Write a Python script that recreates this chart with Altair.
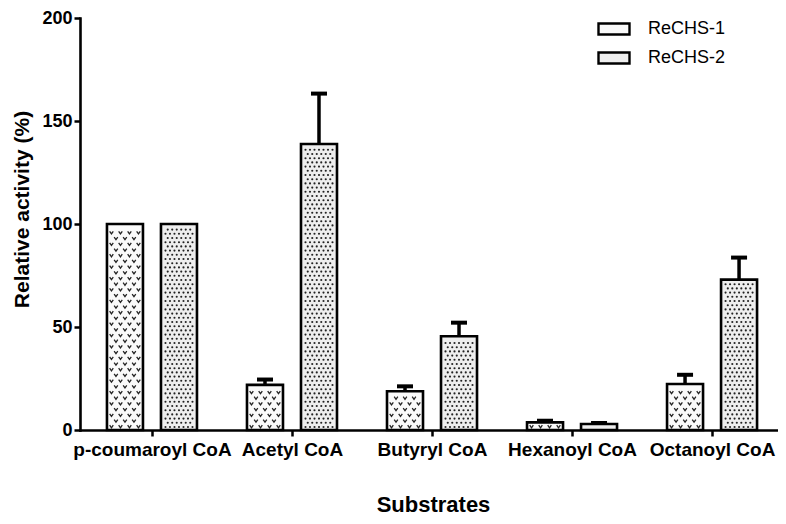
import json
import altair as alt

# ---- data ----
substrates = ["p-coumaroyl CoA", "Acetyl CoA", "Butyryl CoA", "Hexanoyl CoA", "Octanoyl CoA"]
series_names = ["ReCHS-1", "ReCHS-2"]
rechs1_mean = [100, 21.9, 18.8, 3.7, 22.3]
rechs1_err = [None, 2.6, 2.4, 0.8, 4.5]
rechs2_mean = [100, 138.8, 45.5, 2.9, 73.0]
rechs2_err = [None, 24.5, 6.6, 0.5, 10.7]
y_ticks = [0, 50, 100, 150, 200]

records = []
for i, s in enumerate(substrates):
    records.append({"substrate": s, "idx": i, "series": series_names[0],
                    "value": rechs1_mean[i], "err": rechs1_err[i]})
    records.append({"substrate": s, "idx": i, "series": series_names[1],
                    "value": rechs2_mean[i], "err": rechs2_err[i]})

# ---- layout constants (pixels -> data units) ----
PLOT_H = 412.0
XPX = 140.0            # px per category unit
YPX = PLOT_H / 200.0   # px per y unit
OFF = 27.0 / XPX       # offset of each bar from group centre
HW = 18.0 / XPX        # bar half-width

FONT = "Liberation Sans"

xs = alt.Scale(domain=[-0.514, 4.471], nice=False, zero=False)
ys = alt.Scale(domain=[0, 200], nice=False, zero=True)

base = alt.Chart(alt.Data(values=records)).transform_calculate(
    xc=f"datum.idx + (datum.series == '{series_names[0]}' ? -{OFF} : {OFF})"
)

label_expr = f"{json.dumps(substrates)}[datum.value]"

x_axis = alt.Axis(
    values=[0, 1, 2, 3, 4], labelExpr=label_expr, title="Substrates",
    tickSize=6, labelPadding=4, labelFontSize=19, labelOverlap=False,
    labelFlush=False, titleFontSize=22, titleX=353, titleY=81,
    titleBaseline="alphabetic", titleAlign="center")
y_axis = alt.Axis(
    values=y_ticks, title="Relative activity (%)", tickSize=6,
    labelPadding=2, labelFontSize=18, titleFontSize=21,
    titleX=-58, titleY=191, titleAngle=270, titleBaseline="middle",
    titleAlign="center")

bars = base.transform_calculate(
    x1=f"datum.xc - {HW}", x2=f"datum.xc + {HW}", zero="0"
).mark_rect(stroke="black", strokeWidth=2.6).encode(
    x=alt.X("x1:Q", scale=xs, axis=x_axis),
    x2="x2:Q",
    y=alt.Y("value:Q", scale=ys, axis=y_axis),
    y2="zero:Q",
    fill=alt.Fill("series:N", scale=alt.Scale(domain=series_names,
                                               range=["#fafafa", "#eeeeee"]),
                  legend=alt.Legend(
                      title=None, orient="none", legendX=517, legendY=-6,
                      symbolType="M-1,-0.355H1V0.355H-1Z", symbolSize=961,
                      symbolStrokeColor="black", symbolStrokeWidth=2.4,
                      labelFont=FONT, labelFontSize=18, labelColor="black",
                      labelOffset=17, rowPadding=1)),
)

# pattern: "v" marks for ReCHS-1
DYV = 5.7
vs = base.transform_filter(f"datum.series == '{series_names[0]}'").transform_calculate(
    rows=f"sequence(0, max(0, floor((datum.value*{YPX} - 7)/{DYV}) + 1))"
).transform_flatten(["rows"], as_=["r"]).transform_calculate(
    cols="sequence(0, datum.r % 2 == 0 ? 4 : 3)"
).transform_flatten(["cols"], as_=["c"]).transform_calculate(
    px=f"datum.xc + ((datum.r % 2 == 0 ? -13.5 : -9) + datum.c*9)/{XPX}",
    py=f"(3.5 + datum.r*{DYV})/{YPX}"
).mark_point(shape="M-1,-0.7L0,0.7L1,-0.7", filled=False, stroke="#222222",
             strokeWidth=1.3, size=13, opacity=1).encode(
    x=alt.X("px:Q", scale=xs, axis=x_axis),
    y=alt.Y("py:Q", scale=ys, axis=y_axis),
)

# pattern: dots for ReCHS-2
DYD = 4.2
dots = base.transform_filter(f"datum.series == '{series_names[1]}'").transform_calculate(
    rows=f"sequence(0, max(0, floor((datum.value*{YPX} - 6)/{DYD}) + 1))"
).transform_flatten(["rows"], as_=["r"]).transform_calculate(
    cols="sequence(0, datum.r % 2 == 0 ? 7 : 6)"
).transform_flatten(["cols"], as_=["c"]).transform_calculate(
    px=f"datum.xc + ((datum.r % 2 == 0 ? -13.5 : -11.25) + datum.c*4.5)/{XPX}",
    py=f"(3 + datum.r*{DYD})/{YPX}"
).mark_circle(color="#222222", size=4.5, opacity=1).encode(
    x=alt.X("px:Q", scale=xs, axis=x_axis),
    y=alt.Y("py:Q", scale=ys, axis=y_axis),
)

err = base.transform_filter("isValid(datum.err)").transform_calculate(
    top="datum.value + datum.err",
    cl=f"datum.xc - {8.0 / XPX}",
    cr=f"datum.xc + {8.0 / XPX}",
)
stem = err.mark_rule(color="black", strokeWidth=3.5).encode(
    x=alt.X("xc:Q", scale=xs, axis=x_axis),
    y=alt.Y("value:Q", scale=ys, axis=y_axis),
    y2="top:Q",
)
cap = err.mark_rule(color="black", strokeWidth=4).encode(
    x=alt.X("cl:Q", scale=xs, axis=x_axis),
    x2="cr:Q",
    y=alt.Y("top:Q", scale=ys, axis=y_axis),
)

chart = alt.layer(bars, vs, dots, stem, cap).properties(
    width=698, height=PLOT_H,
    autosize=alt.AutoSizeParams(type="none"),
    padding={"left": 72, "top": 10, "right": 0, "bottom": 86},
).configure_view(stroke=None).configure_axis(
    grid=False, domainColor="black", domainWidth=2.6, domainCap="square",
    tickColor="black", tickWidth=2.5, labelColor="black", titleColor="black",
    labelFont=FONT, titleFont=FONT, labelFontWeight="bold", titleFontWeight="bold",
)

chart.save("out.html", embed_options={"renderer": "svg", "actions": False})
